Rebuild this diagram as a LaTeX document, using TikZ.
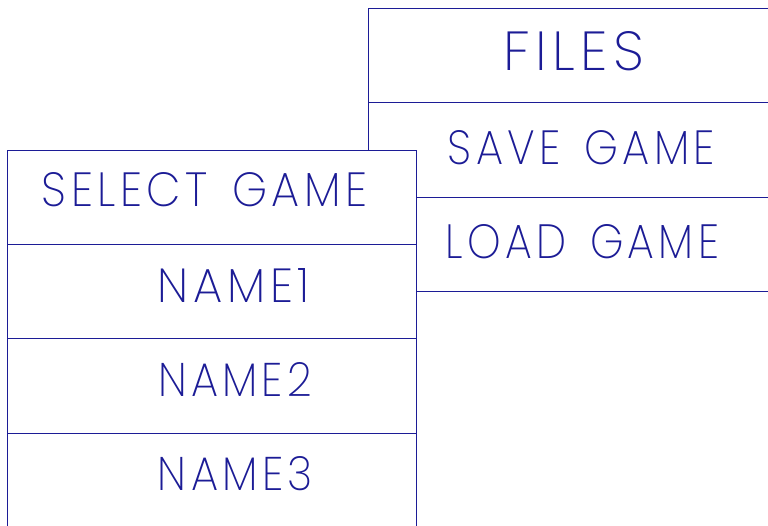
\documentclass[tikz,border=0pt]{standalone}
\usepackage{fontspec}
\newfontfamily\cadfont{Poppins ExtraLight}[LetterSpace=10]
\usepackage{graphicx}
\definecolor{ink}{RGB}{28,28,150}
\tikzset{
  cell/.style={draw=ink, line width=0.9pt, fill=white, inner sep=0pt, outer sep=0pt, anchor=north west},
  label/.style={inner sep=0pt, outer sep=0pt, text=ink}
}
% \cadlabel{width}{cap height}{text}
\newcommand{\cadlabel}[3]{\resizebox{#1}{#2}{\cadfont #3}}
\newcommand{\wordgap}{\hspace{0.55em}}
\begin{document}
\begin{tikzpicture}[x=1pt,y=-1pt]
  \useasboundingbox (0,0) rectangle (768,525);
  \clip (0,0) rectangle (768,525);
  % files menu
  \node[cell, minimum width=432pt, minimum height=94pt] (files) at (368,8) {};
  \node[cell, minimum width=432pt, minimum height=95pt] (save) at (368,102) {};
  \node[cell, minimum width=432pt, minimum height=94pt] (load) at (368,197) {};
  % game selection list
  \node[cell, minimum width=409pt, minimum height=94pt] (select) at (7,150) {};
  \node[cell, minimum width=409pt, minimum height=94pt] (name1) at (7,244) {};
  \node[cell, minimum width=409pt, minimum height=95pt] (name2) at (7,338) {};
  \node[cell, minimum width=409pt, minimum height=110pt] (name3) at (7,433) {};
  % captions
  \node[label] (tfiles) at (573.5,51.5) {\cadlabel{141pt}{39pt}{FILES}};
  \node[label] (tsave) at (581.5,148) {\cadlabel{267pt}{34pt}{SAVE\wordgap GAME}};
  \node[label] (tload) at (582.5,242) {\cadlabel{273pt}{34pt}{LOAD\wordgap GAME}};
  \node[label] (tselect) at (204.5,190) {\cadlabel{325pt}{34pt}{SELECT\wordgap GAME}};
  \node[label] (tname1) at (234,285) {\cadlabel{152pt}{34pt}{NAME\hspace{0.1em}1}};
  \node[label] (tname2) at (235,379.5) {\cadlabel{154pt}{34pt}{NAME2}};
  \node[label] (tname3) at (235.5,473.5) {\cadlabel{155pt}{34pt}{NAME3}};
\end{tikzpicture}
\end{document}
